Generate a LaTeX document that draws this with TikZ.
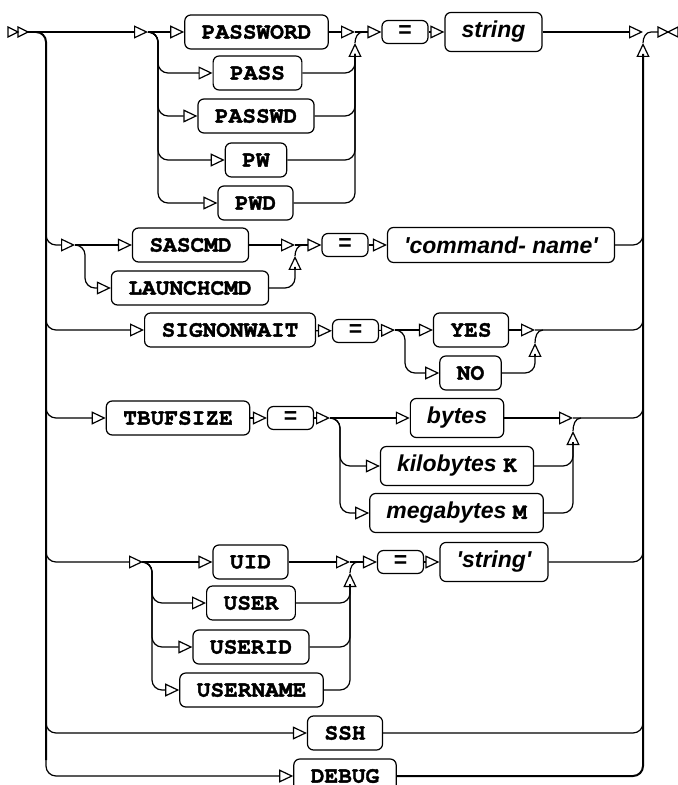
\documentclass[tikz,border=0pt]{standalone}
\usepackage{fontspec}
\usetikzlibrary{arrows.meta}
\newfontfamily\argfont{Liberation Sans}[Ligatures=TeXOff]
\newfontfamily\kwfont{texgyrecursor-bold}[Extension=.otf, FakeBold=1.6]

\begin{document}
\begin{tikzpicture}[
    x=0.5pt, y=-0.5pt,
    rail/.style={line width=0.6pt},
    bar/.style={line width=1pt},
    arrowin/.style={-{Triangle[open, length=7pt, width=6.5pt]}},
    kw/.style={draw, line width=0.6pt, rounded corners=3pt, fill=white,
        minimum height=17pt, inner xsep=8.5pt, inner ysep=0pt,
        font=\kwfont\fontsize{11.4}{13}\selectfont},
    var/.style={draw, line width=0.6pt, rounded corners=3pt, fill=white,
        minimum height=17.5pt, inner xsep=8.3pt, inner ysep=4.4pt,
        font=\argfont\bfseries\itshape\fontsize{11.5}{13}\selectfont},
    eq/.style={draw, line width=0.6pt, rounded corners=3pt, fill=white,
        minimum width=23pt, minimum height=11.5pt, inner sep=0pt,
        font=\argfont\bfseries\fontsize{11.5}{13}\selectfont}
]
    \useasboundingbox (0,0) rectangle (678,785);

    \node[kw] (password) at (256.5,32) {PASSWORD};
    \node[kw] (pass) at (257.5,73) {PASS};
    \node[kw] (passwd) at (256,116) {PASSWD};
    \node[kw] (pw) at (256,160) {PW};
    \node[kw] (pwd) at (255.5,203) {PWD};
    \node[eq] (eqpw) at (405,32) {=};
    \node[var] (string) at (493.5,32) {string};

    \node[kw] (sascmd) at (190.5,245) {SASCMD};
    \node[kw] (launchcmd) at (190,288) {LAUNCHCMD};
    \node[eq] (eqcmd) at (345,245) {=};
    \node[var] (cmdname) at (501,245) {'command- name'};

    \node[kw] (signonwait) at (230,330) {SIGNONWAIT};
    \node[eq] (eqwait) at (355.5,331) {=};
    \node[kw] (yes) at (471,330) {YES};
    \node[kw] (no) at (470.5,373) {NO};

    \node[kw] (tbufsize) at (178,418) {TBUFSIZE};
    \node[eq] (eqbuf) at (290.5,418) {=};
    \node[var] (bytes) at (457,418) {bytes};
    \node[var] (kilobytes) at (457,466) {kilobytes {\kwfont\upshape K}};
    \node[var] (megabytes) at (456.5,513) {megabytes {\kwfont\upshape M}};

    \node[kw] (uid) at (250.5,562) {UID};
    \node[kw] (user) at (251,603) {USER};
    \node[kw] (userid) at (251,647) {USERID};
    \node[kw] (username) at (251.5,690) {USERNAME};
    \node[eq] (equser) at (400.5,562) {=};
    \node[var] (userstr) at (494,562) {'string'};

    \node[kw] (ssh) at (345,733) {SSH};
    \node[kw] (debug) at (345,776) {DEBUG};

    \coordinate (begin) at (28,32);
    \coordinate (finish) at (658,32);
    \draw[rail] (8,27) -- (18,32) -- (8,37) -- cycle;
    \draw[rail] (18,27) -- (28,32) -- (18,37) -- cycle;
    \draw[rail] (658,27) -- (668,32) -- (658,37) -- cycle;
    \draw[rail] (678,27) -- (668,32) -- (678,37) -- cycle;

    % outer bars
    \draw[bar, rounded corners=5pt] (36,32) -| (46,760);
    \draw[bar, rounded corners=5pt] (debug) -| (643,54);
    \draw[rail, arrowin] (643,54) -- (643,43);
    \draw[rail] (643,43) to[out=90, in=180] (651,32) -- (finish);

    % password
    \coordinate (split1) at (148,32);
    \coordinate (join1) at (355,32);
    \coordinate (join0) at (643,32);
    \draw[rail, arrowin] (begin) -- (split1);
    \draw[rail, arrowin] (split1) -- (password);
    \foreach \n in {pass,passwd,pw,pwd}
        \draw[rail, arrowin, rounded corners=5pt] (split1) -- (158,32) |- (\n);
    \draw[rail, arrowin] (password) -- (join1);
    \foreach \n in {pass,passwd,pw,pwd}
        \draw[rail, rounded corners=5pt] (\n) -| (355,54);
    \draw[rail, arrowin] (355,54) -- (355,43);
    \draw[rail] (355,43) to[out=90, in=180] (363,32);
    \draw[rail, arrowin] (join1) -- (eqpw);
    \draw[rail, arrowin] (eqpw) -- (string);
    \draw[rail, arrowin] (string) -- (join0);

    % sascmd
    \coordinate (split2) at (75,245);
    \coordinate (join2) at (295,245);
    \draw[rail, arrowin, rounded corners=5pt] (46,225) |- (split2);
    \draw[rail, arrowin] (split2) -- (sascmd);
    \draw[rail, arrowin, rounded corners=5pt] (split2) -- (85,245) |- (launchcmd);
    \draw[rail, arrowin] (sascmd) -- (join2);
    \draw[rail, rounded corners=5pt] (launchcmd) -| (295,267);
    \draw[rail, arrowin] (295,267) -- (295,256);
    \draw[rail] (295,256) to[out=90, in=180] (303,245);
    \draw[rail, arrowin] (join2) -- (eqcmd);
    \draw[rail, arrowin] (eqcmd) -- (cmdname);
    \draw[rail, rounded corners=5pt] (cmdname) -| (643,225);

    % signonwait
    \coordinate (split3) at (395,330);
    \coordinate (join3) at (535,330);
    \draw[rail, arrowin, rounded corners=5pt] (46,310) |- (signonwait);
    \draw[rail, arrowin] (signonwait) -- (eqwait);
    \draw[rail, arrowin] (eqwait) -- (split3);
    \draw[rail, arrowin] (split3) -- (yes);
    \draw[rail, arrowin, rounded corners=5pt] (split3) -- (405,330) |- (no);
    \draw[rail, arrowin] (yes) -- (join3);
    \draw[rail, rounded corners=5pt] (no) -| (535,354);
    \draw[rail, arrowin] (535,354) -- (535,343);
    \draw[rail] (535,343) to[out=90, in=180] (543,330);
    \draw[rail, rounded corners=5pt] (join3) -| (643,310);

    % tbufsize
    \coordinate (split4) at (330,418);
    \coordinate (join4) at (573,418);
    \draw[rail, arrowin, rounded corners=5pt] (46,398) |- (tbufsize);
    \draw[rail, arrowin] (tbufsize) -- (eqbuf);
    \draw[rail, arrowin] (eqbuf) -- (split4);
    \draw[rail, arrowin] (split4) -- (bytes);
    \foreach \n in {kilobytes,megabytes}
        \draw[rail, arrowin, rounded corners=5pt] (split4) -- (340,418) |- (\n);
    \draw[rail, arrowin] (bytes) -- (join4);
    \foreach \n in {kilobytes,megabytes}
        \draw[rail, rounded corners=5pt] (\n) -| (573,442);
    \draw[rail, arrowin] (573,442) -- (573,431);
    \draw[rail] (573,431) to[out=90, in=180] (581,418);
    \draw[rail, rounded corners=5pt] (join4) -| (643,398);

    % uid
    \coordinate (split5) at (143,562);
    \coordinate (join5) at (350,562);
    \draw[rail, arrowin, rounded corners=5pt] (46,542) |- (split5);
    \draw[rail, arrowin] (split5) -- (uid);
    \foreach \n in {user,userid,username}
        \draw[rail, arrowin, rounded corners=5pt] (split5) -- (152,562) |- (\n);
    \draw[rail, arrowin] (uid) -- (join5);
    \foreach \n in {user,userid,username}
        \draw[rail, rounded corners=5pt] (\n) -| (350,584);
    \draw[rail, arrowin] (350,584) -- (350,573);
    \draw[rail] (350,573) to[out=90, in=180] (358,562);
    \draw[rail, arrowin] (join5) -- (equser);
    \draw[rail, arrowin] (equser) -- (userstr);
    \draw[rail, rounded corners=5pt] (userstr) -| (643,542);

    % ssh, debug
    \draw[rail, arrowin, rounded corners=5pt] (46,713) |- (ssh);
    \draw[rail, rounded corners=5pt] (ssh) -| (643,713);
    \draw[rail, arrowin, rounded corners=5pt] (46,756) |- (debug);
\end{tikzpicture}
\end{document}
